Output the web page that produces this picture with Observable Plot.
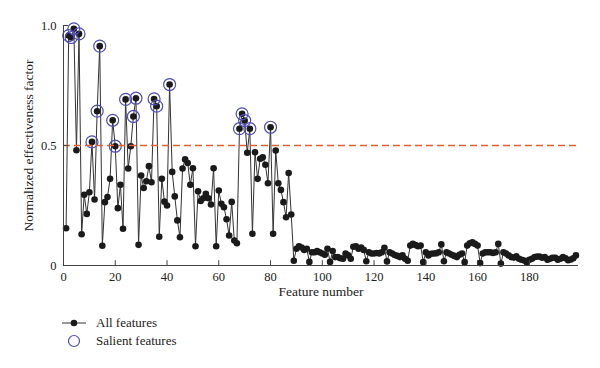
<!DOCTYPE html>
<html><head><meta charset="utf-8">
<script src="https://cdn.jsdelivr.net/npm/d3@7"></script>
<script src="https://cdn.jsdelivr.net/npm/@observablehq/plot@0.6"></script>
<style>
body{margin:0;background:#fff;font-family:"Liberation Serif",serif;}
#legend{padding:9px 0 0 62px;font-size:13px;color:#222}
.row{height:18px;display:flex;align-items:center}
.row svg{margin-right:10px}
</style></head><body>
<div id="chart"></div>
<div id="legend"></div>
<script>
const features = d3.range(1, 199);
const values = [
  0.155,0.958,0.95,0.986,0.48,0.965,0.13,0.295,0.215,0.305,
  0.515,0.275,0.643,0.914,0.082,0.264,0.285,0.361,0.605,0.497,
  0.239,0.336,0.153,0.692,0.404,0.497,0.621,0.697,0.086,0.375,
  0.323,0.351,0.414,0.347,0.694,0.664,0.12,0.361,0.266,0.25,
  0.754,0.39,0.288,0.188,0.118,0.404,0.442,0.427,0.336,0.405,
  0.08,0.309,0.269,0.28,0.299,0.28,0.254,0.405,0.08,0.3125,
  0.257,0.243,0.193,0.125,0.265,0.104,0.093,0.57,0.632,0.604,
  0.47,0.57,0.132,0.472,0.361,0.445,0.451,0.42,0.343,0.576,
  0.132,0.479,0.343,0.315,0.264,0.201,0.385,0.2125,0.02,0.07,
  0.08,0.075,0.065,0.07,0.015,0.055,0.055,0.06,0.055,0.05,
  0.045,0.07,0.015,0.06,0.035,0.035,0.03,0.028,0.05,0.042,
  0.028,0.078,0.08,0.07,0.075,0.065,0.018,0.055,0.05,0.05,
  0.052,0.05,0.055,0.074,0.017,0.055,0.05,0.044,0.04,0.035,
  0.042,0.028,0.02,0.083,0.09,0.085,0.08,0.083,0.014,0.055,
  0.042,0.049,0.05,0.051,0.055,0.088,0.018,0.055,0.05,0.045,
  0.04,0.035,0.045,0.05,0.014,0.083,0.093,0.097,0.09,0.083,
  0.01,0.05,0.055,0.055,0.055,0.052,0.055,0.09,0.008,0.055,
  0.05,0.042,0.035,0.033,0.038,0.028,0.024,0.021,0.014,0.024,
  0.028,0.035,0.037,0.037,0.032,0.035,0.024,0.028,0.032,0.032,
  0.024,0.028,0.035,0.03,0.022,0.025,0.03,0.042
];
const salientFeatures = [2,3,4,6,11,13,14,19,20,24,27,28,35,36,41,68,69,70,72,80];
const threshold = [0.5];
const xTicks = [0,20,40,60,80,100,120,140,160,180];
const yTicks = [0,0.5,1];
const yTickLabels = ["0","0.5","1.0"];
const xLabel = "Feature number";
const yLabel = "Normalized effectiveness factor";
const legendLabels = ["All features","Salient features"];

const data = features.map((f, i) => ({feature: f, value: values[i]}));
const salient = data.filter(d => salientFeatures.includes(d.feature));
const axisColor = "#444";
const dashColor = "#e0602f";

const chart = Plot.plot({
  width: 600, height: 305,
  marginLeft: 63, marginRight: 22, marginTop: 25, marginBottom: 40,
  style: {fontFamily: "Liberation Serif", fontSize: "12px", color: "#222", background: "#fff"},
  x: {domain: [0, 199]},
  y: {domain: [0, 1]},
  marks: [
    Plot.line(data, {x: "feature", y: "value", stroke: "#333", strokeWidth: 1}),
    Plot.dot(data, {x: "feature", y: "value", r: 3.3, fill: "#1a1a1a"}),
    Plot.dot(salient, {x: "feature", y: "value", r: 6, stroke: "#4f4fb5", strokeWidth: 1.2, fill: "none"}),
    Plot.ruleY(threshold, {y: d => d, stroke: dashColor, strokeWidth: 1.3, strokeDasharray: "7,4", strokeOpacity: 1}),
    Plot.ruleY([0], {stroke: axisColor}),
    Plot.ruleX([0], {stroke: axisColor}),
    Plot.ruleX(xTicks, {x: d => d, y1: 0, y2: 0.02, stroke: axisColor}),
    Plot.ruleY(yTicks, {y: d => d, x1: 0, x2: 2, stroke: axisColor}),
    Plot.axisX({ticks: xTicks, tickSize: 0, tickPadding: 7, label: null, fontSize: 12.5}),
    Plot.axisY({ticks: yTicks, tickSize: 0, tickPadding: 7, label: null, fontSize: 12.5,
      tickFormat: d => yTickLabels[yTicks.indexOf(d)]}),
    Plot.text([xLabel], {frameAnchor: "bottom", dy: 30, fontSize: 13.5, fill: "#222"}),
    Plot.text([yLabel], {frameAnchor: "left", textAnchor: "middle", rotate: -90, dx: -35, fontSize: 13.5, fill: "#222"})
  ]
});
document.getElementById("chart").appendChild(chart);

const legend = document.getElementById("legend");
const glyphs = [
  `<svg width="24" height="14"><line x1="0" y1="7" x2="24" y2="7" stroke="#333" stroke-width="1"/><circle cx="12" cy="7" r="3.3" fill="#1a1a1a"/></svg>`,
  `<svg width="24" height="14"><circle cx="12" cy="7" r="5.5" fill="none" stroke="#4f4fb5" stroke-width="1.2"/></svg>`
];
legendLabels.forEach((l, i) => {
  const row = document.createElement("div");
  row.className = "row";
  row.innerHTML = glyphs[i] + `<span>${l}</span>`;
  legend.appendChild(row);
});
</script>
</body></html>
